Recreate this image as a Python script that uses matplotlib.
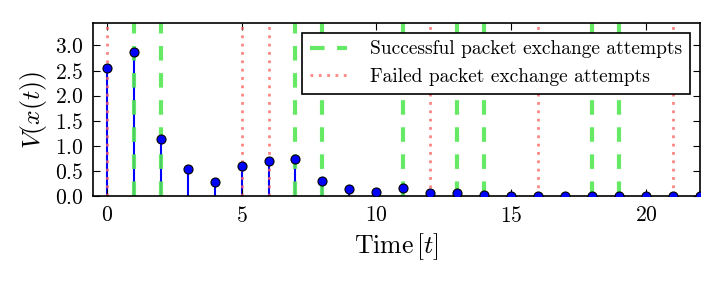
import numpy as np
import matplotlib
matplotlib.use('Agg')
import matplotlib.pyplot as plt

plt.rcParams['font.family'] = 'serif'
plt.rcParams['font.serif'] = ['cmr10']
plt.rcParams['mathtext.fontset'] = 'cm'
plt.rcParams['axes.formatter.use_mathtext'] = True

# lyapunov value per time step
t = np.arange(0, 23)
v = [2.55, 2.87, 1.14, 0.53, 0.28, 0.59, 0.69, 0.73, 0.30, 0.14, 0.08,
     0.16, 0.06, 0.05, 0.02, 0.005, 0.0, 0.0, 0.0, 0.0, 0.0, 0.0, 0.0]

success = [1, 2, 7, 8, 11, 13, 14, 18, 19]
failed = [0, 5, 6, 12, 16, 21]

fig = plt.figure(figsize=(7.23, 2.82), dpi=100)
ax = fig.add_axes([0.129, 0.305, 0.839, 0.614])

for i, s in enumerate(success):
    ax.axvline(s, color='#55e855', ls=(0, (3.5, 3)), lw=3, alpha=0.9,
               label='Successful packet exchange attempts' if i == 0 else None, zorder=2)
for i, f in enumerate(failed):
    ax.axvline(f, color='#ff6666', ls=(0, (1, 2)), lw=2, alpha=0.8,
               label='Failed packet exchange attempts' if i == 0 else None, zorder=2)

ax.vlines(t, 0, v, color='blue', lw=1.5, zorder=1)
ax.plot(t, v, 'o', color='blue', mec='black', mew=0.8, ms=6.5, zorder=3)

ax.set_xlim(-0.5, 22)
ax.set_ylim(0, 3.45)
ax.set_xticks([0, 5, 10, 15, 20])
ax.set_yticks(np.arange(0, 3.01, 0.5))
ax.tick_params(direction='in', top=True, right=True, labelsize=15.5, length=5, pad=7)
for sp in ax.spines.values():
    sp.set_linewidth(1.2)

ax.set_xlabel(r'Time$\,[t]$', fontsize=18.5)
ax.set_ylabel(r'$V(x(t))$', fontsize=18.5)

leg = ax.legend(loc='upper right', fontsize=14, fancybox=False, framealpha=1,
                edgecolor='black', handlelength=1.9, handletextpad=1.2,
                borderaxespad=0.5)
leg.get_frame().set_linewidth(1.2)

fig.savefig('out.png', dpi=100)
